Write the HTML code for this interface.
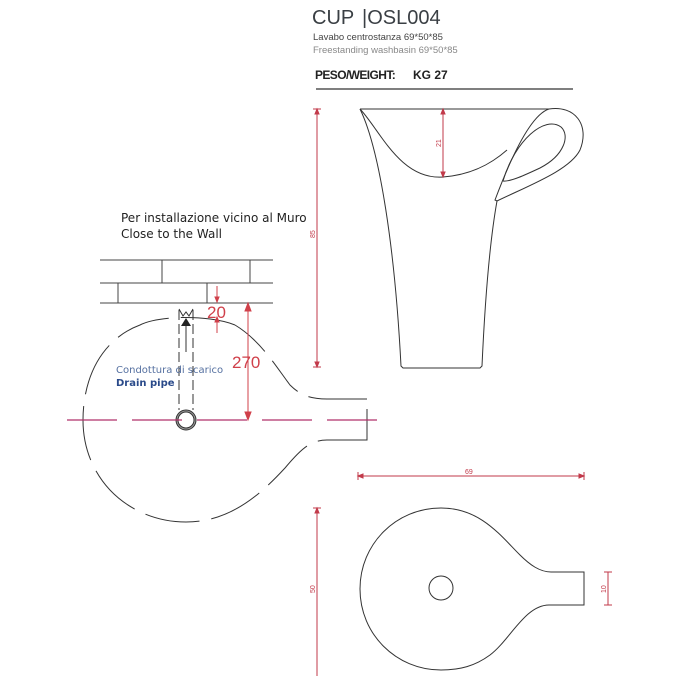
<!DOCTYPE html>
<html><head><meta charset="utf-8"><style>
body{margin:0;background:#fff;}
svg{display:block;}
</style></head><body>
<svg width="676" height="676" viewBox="0 0 676 676" xmlns="http://www.w3.org/2000/svg" font-family="Liberation Sans, sans-serif">
<!-- header -->
<text x="312" y="24" font-size="20" fill="#3a3f44" font-family="Liberation Sans Narrow, Liberation Sans, sans-serif">CUP</text>
<text x="362" y="24" font-size="20" fill="#3a3f44" font-family="Liberation Sans Narrow, Liberation Sans, sans-serif">|OSL004</text>
<text x="313" y="40" font-size="9.5" fill="#444">Lavabo centrostanza 69*50*85</text>
<text x="313" y="53" font-size="9.5" fill="#888">Freestanding  washbasin   69*50*85</text>
<text x="315" y="79" font-size="12" font-weight="bold" fill="#222" letter-spacing="-0.6">PESO/WEIGHT:</text>
<text x="413" y="79" font-size="12" font-weight="bold" fill="#222">KG 27</text>
<line x1="316" y1="89" x2="573" y2="89" stroke="#333" stroke-width="1.3"/>

<!-- cup side view -->
<g fill="none" stroke="#333" stroke-width="1">
<path d="M360 109 L549 109"/>
<path d="M360 109 C380 150 395 250 401 366 L403 368 L480 368 L482 366 C485 300 490 240 497 201"/>
<path d="M360 109 C380 130 400 180 443 177 C470 175 490 165 507 150"/>
<path d="M497 201 L495 200 C510 160 530 115 549 109 C575 105 590 125 580 150 C570 170 530 185 497 201"/>
<path d="M503 181 C515 140 545 115 561 127 C570 135 565 155 540 168 C525 175 510 182 503 181"/>
</g>
<g stroke="#c23a4a" stroke-width="1" fill="#c23a4a">
<line x1="317" y1="109" x2="317" y2="367"/>
<line x1="313" y1="109" x2="321" y2="109"/><line x1="313" y1="367" x2="321" y2="367"/>
<path d="M317 109 l-2 5 h4z"/><path d="M317 367 l-2 -5 h4z"/>
<line x1="443" y1="109" x2="443" y2="177"/>
<path d="M443 109 l-2 5 h4z"/><path d="M443 177 l-2 -5 h4z"/>
</g>
<text x="0" y="0" font-size="7" fill="#c23a4a" transform="translate(315,238) rotate(-90)">85</text>
<text x="0" y="0" font-size="7" fill="#c23a4a" transform="translate(441,147) rotate(-90)">21</text>

<!-- wall note -->
<text x="121" y="222" font-size="12" fill="#222" font-family="DejaVu Sans, sans-serif">Per installazione vicino al  Muro</text>
<text x="121" y="238" font-size="12" fill="#222" font-family="DejaVu Sans, sans-serif">Close to the Wall</text>
<g stroke="#444" stroke-width="1">
<line x1="100" y1="260" x2="273" y2="260"/>
<line x1="100" y1="283" x2="273" y2="283"/>
<line x1="100" y1="303" x2="273" y2="303"/>
<line x1="162" y1="260" x2="162" y2="283"/><line x1="250" y1="260" x2="250" y2="283"/>
<line x1="118" y1="283" x2="118" y2="303"/><line x1="207" y1="283" x2="207" y2="303"/>
</g>

<!-- plan view dashed -->
<g fill="none" stroke="#333" stroke-width="1">
<path d="M235 325 C210 315 160 315 140 325 C100 340 83 380 83 420 C83 480 130 522 186 522 C230 522 260 495 285 468 C300 450 310 440 327 440" stroke-dasharray="55 12"/>
<path d="M235 325 C260 340 275 365 290 385 C300 395 310 399 327 399" stroke-dasharray="40 12"/>
<path d="M327 399 L367 399 M367 409 L367 440 L327 440"/>
<line x1="179" y1="310" x2="179" y2="410" stroke-dasharray="10 4"/>
<line x1="193" y1="310" x2="193" y2="410" stroke-dasharray="10 4"/>
<line x1="186" y1="325" x2="186" y2="352"/>
<path d="M179 309 L183 316 L186 312 L189 316 L193 309"/>
</g>
<path d="M186 318 l-5 8 h10z" fill="#222"/>
<circle cx="186" cy="420" r="9" fill="none" stroke="#333" stroke-width="3"/>
<circle cx="186" cy="420" r="9" fill="none" stroke="#999" stroke-width="1"/>
<line x1="67" y1="420" x2="385" y2="420" stroke="#b0306a" stroke-width="1.2" stroke-dasharray="50 15"/>
<text x="116" y="373" font-size="10" fill="#5570a0" font-family="DejaVu Sans, sans-serif">Condottura di scarico</text>
<text x="116" y="386" font-size="10" font-weight="bold" fill="#2a4a8a" font-family="DejaVu Sans, sans-serif">Drain pipe</text>
<g stroke="#d0404a" stroke-width="1" fill="#d0404a">
<line x1="248" y1="303" x2="248" y2="420"/>
<path d="M248 303 l-3 8 h6z"/><path d="M248 420 l-3 -8 h6z"/>
<line x1="217" y1="286" x2="217" y2="302"/><path d="M217 302 l-2 -5 h4z"/>
<line x1="217" y1="317" x2="217" y2="333"/><path d="M217 317 l-2 5 h4z"/>
</g>
<text x="207" y="318" font-size="17" fill="#d0404a">20</text>
<text x="232" y="368" font-size="17" fill="#d0404a">270</text>

<!-- top view -->
<g fill="none" stroke="#333" stroke-width="1">
<path d="M551 572 L584 572 L584 605 L549 605 C525 605 510 640 490 655 C475 666 460 670 441 670 C396 670 360 634 360 589 C360 544 396 508 441 508 C480 508 500 535 520 555 C530 565 540 572 551 572Z"/>
<circle cx="441" cy="588" r="12"/>
</g>
<g stroke="#c23a4a" stroke-width="1" fill="#c23a4a">
<line x1="358" y1="476" x2="584" y2="476"/>
<line x1="358" y1="472" x2="358" y2="480"/><line x1="584" y1="472" x2="584" y2="480"/>
<path d="M358 476 l5 -2 v4z"/><path d="M584 476 l-5 -2 v4z"/>
<line x1="317" y1="508" x2="317" y2="676"/>
<line x1="313" y1="508" x2="321" y2="508"/><path d="M317 508 l-2 5 h4z"/>
<line x1="608" y1="572" x2="608" y2="605"/>
<line x1="604" y1="572" x2="612" y2="572"/><line x1="604" y1="605" x2="612" y2="605"/>
</g>
<text x="465" y="474" font-size="7" fill="#c23a4a">69</text>
<text x="0" y="0" font-size="7" fill="#c23a4a" transform="translate(315,593) rotate(-90)">50</text>
<text x="0" y="0" font-size="7" fill="#c23a4a" transform="translate(606,593) rotate(-90)">10</text>
</svg>
</body></html>
